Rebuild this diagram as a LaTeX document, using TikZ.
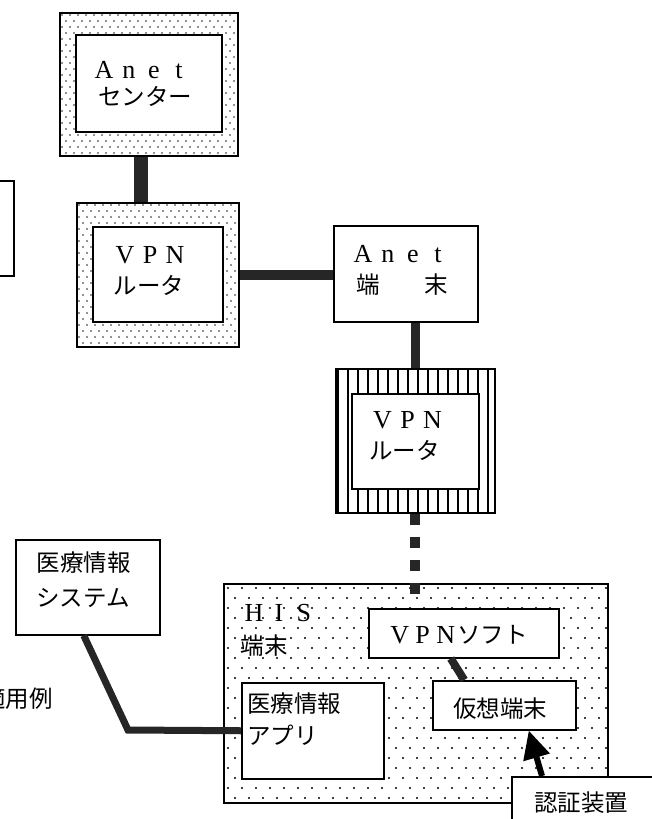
\documentclass[tikz,border=0pt]{standalone}
\usepackage{fontspec}
\setmainfont{Liberation Serif}
\newfontfamily\jp{Noto Sans CJK JP}
\usetikzlibrary{arrows.meta,calc}
\newcommand\spl[1]{\makebox[25pt]{#1}}
\newcommand\spf[1]{\makebox[23pt]{#1}}
\tikzset{
  box/.style={draw=black, line width=1.5pt, fill=white, inner sep=0pt, anchor=north west},
  bar/.style={line width=#1, draw=black!85},
  lat/.style={font=\fontsize{26}{28}\selectfont, inner sep=0pt, anchor=base},
  jtx/.style={font=\jp\fontsize{23.5}{26}\selectfont, inner sep=0pt, anchor=base},
  dot/.style={fill=black!85},
}
\begin{document}
\begin{tikzpicture}[x=1pt,y=-1pt]
\useasboundingbox (0,0) rectangle (652,819);

% ---------- Anet centre ----------
\node[box, minimum width=178, minimum height=143] (anetc) at (59,12) {};
\begin{scope}
\clip (59,12) rectangle (237,155);
\foreach \j in {0,...,24} { \foreach \i in {0,...,23} {
  \fill[dot] ({62+\i*8+mod(\j,2)*4},{15+\j*6}) circle (0.95);
}}
\end{scope}
\node[box, minimum width=146, minimum height=97] (anetci) at (75,34) {};
\node[lat] (t1) at (141.5,78) {\spl{A}\spl{n}\spl{e}\spl{t}};
\node[jtx] (t2) at (145,105) {センター};

% ---------- left partial box ----------
\node[box, minimum width=80, minimum height=95] (leftbox) at (-67,180) {};

% ---------- VPN router 1 ----------
\node[box, minimum width=162, minimum height=144] (vpn1) at (76,202) {};
\begin{scope}
\clip (76,202) rectangle (238,346);
\foreach \j in {0,...,24} { \foreach \i in {0,...,21} {
  \fill[dot] ({79+\i*8+mod(\j,2)*4},{205+\j*6}) circle (0.95);
}}
\end{scope}
\node[box, minimum width=130, minimum height=95] (vpn1i) at (92,226) {};
\node[lat] (t3) at (150,263) {\spl{V}\spl{P}\spl{N}};
\node[jtx] (t4) at (149,294.5) {ルータ};

% ---------- Anet terminal ----------
\node[box, minimum width=144, minimum height=96] (anett) at (333,225) {};
\node[lat] (t5) at (400.5,262) {\spl{A}\spl{n}\spl{e}\spl{t}};
\node[jtx] (t6) at (402,293.5) {\makebox[92pt][s]{端\hfill 末}};

% ---------- VPN router 2 (striped) ----------
\node[box, minimum width=159, minimum height=144] (vpn2) at (335,368) {};
\begin{scope}
\clip (335,368) rectangle (494,512);
\foreach \i in {0,...,15} { \draw[line width=1.2] ({338+\i*10},368) -- ++(0,144); }
\end{scope}
\node[box, minimum width=159, minimum height=144, fill=none] (vpn2b) at (335,368) {};
\node[box, minimum width=127, minimum height=95] (vpn2i) at (351,393) {};
\node[lat] (t7) at (407.5,428) {\spl{V}\spl{P}\spl{N}};
\node[jtx] (t8) at (404.5,459.5) {ルータ};

% ---------- medical information system ----------
\node[box, minimum width=144, minimum height=95] (sys) at (15,539) {};
\node[jtx] (t9) at (83.5,571.5) {医療情報};
\node[jtx] (t10) at (83,606.5) {システム};

% ---------- HIS terminal ----------
\node[box, minimum width=384, minimum height=219] (his) at (223,583) {};
\begin{scope}
\clip (223,583) rectangle (607,802);
\foreach \j in {0,...,22} { \foreach \i in {0,...,27} {
  \fill[black] ({228+\i*14+mod(\j,2)*7},{588+\j*10}) circle (1.2);
}}
\end{scope}
\node[box, minimum width=384, minimum height=219, fill=none] (hisb) at (223,583) {};
\node[lat] (t11) at (279,621) {\spl{H}\spl{I}\spl{S}};
\node[jtx] (t12) at (264,654.5) {端末};

\node[box, minimum width=142, minimum height=96] (app) at (241,682) {};
\node[jtx, anchor=base west] (t13) at (247,712.5) {医療情報};
\node[jtx, anchor=base west] (t14) at (247,744.5) {アプリ};

\node[box, minimum width=190, minimum height=49] (vsoft) at (368,608) {};
\node[jtx, anchor=base west] (t15) at (388,643) {{\rmfamily\fontsize{26}{28}\selectfont\spf{V}\spf{P}\spf{N}}ソフト};

\node[box, minimum width=143, minimum height=49] (vterm) at (432,680) {};
\node[jtx] (t16) at (500,717.5) {仮想端末};

% ---------- authentication device ----------
\node[box, minimum width=200, minimum height=100] (auth) at (511,776) {};
\node[jtx] (t17) at (581,811.5) {認証装置};

% ---------- caption fragment ----------
\node[jtx, anchor=base east] (t18) at (53,707) {適用例};

% ---------- connectors ----------
\draw[bar=14pt] ([xshift=-8pt]anetc.south) -- ([xshift=-8pt]anetc.south |- vpn1.north);
\draw[bar=10pt] (vpn1.east) -- (vpn1.east -| anett.west);
\draw[bar=9pt] (vpn2.north |- anett.south) -- (vpn2.north);
\coordinate (dend) at ($(vpn2.south |- his.north)+(0,11)$);
\draw[line width=10pt, draw=black!85, dash pattern=on 11.5pt off 11.5pt] (vpn2.south) -- (dend);
\coordinate (bend) at (128,730);
\draw[bar=7pt, line join=miter] ([xshift=-4pt]sys.south) -- (bend) -- (app.west);
\draw[bar=8pt] ([xshift=-13pt]vsoft.south) -- ([xshift=-40pt]vterm.north);
\draw[line width=6pt, -{Triangle[length=28pt,width=26pt]}] ([xshift=31pt]auth.north west) -- ([xshift=24.5pt]vterm.south);
\end{tikzpicture}
\end{document}
